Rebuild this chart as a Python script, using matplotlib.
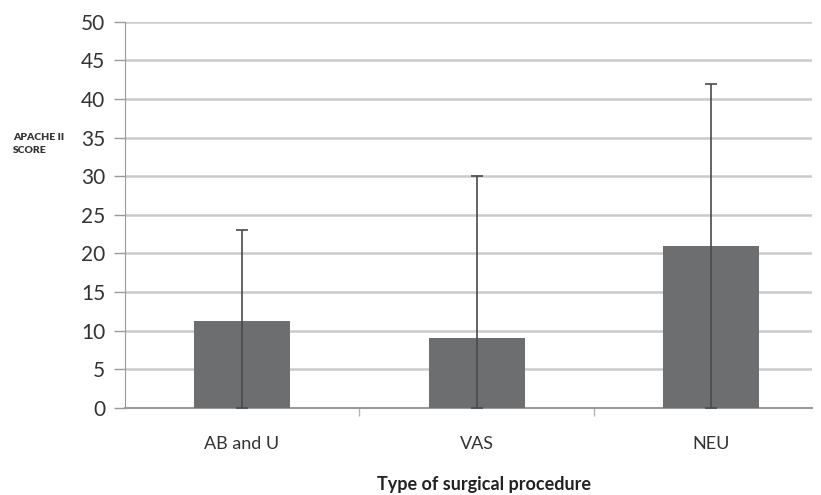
import numpy as np
import matplotlib.pyplot as plt

plt.rcParams['font.family'] = ['Lato', 'DejaVu Sans']

categories = ['AB and U', 'VAS', 'NEU']
means = [11.2, 9.1, 20.9]
upper_err = [11.8, 20.9, 21.1]   # mean + err = 23, 30, 42
lower_err = [11.2, 9.1, 20.9]    # down to 0

fig = plt.figure(figsize=(8.21, 4.95), dpi=100)
ax = fig.add_axes([0.152, 0.176, 0.837, 0.78])

x = np.arange(len(categories))
ax.bar(x, means, width=0.41, color='#6d6e70', zorder=3)
ax.errorbar(x, means, yerr=[lower_err, upper_err], fmt='none',
            ecolor='#4a4a4c', elinewidth=1.2, capsize=4, capthick=1.2, zorder=4)

ax.set_ylim(0, 50)
ax.set_yticks(range(0, 51, 5))
ax.set_xlim(-0.5, 2.43)
ax.set_xticks(x)
ax.set_xticks(x[:-1] + 0.5, minor=True)
ax.set_xticklabels(categories, fontsize=13, color='#333333')
ax.tick_params(axis='x', which='major', length=0, pad=20)
ax.tick_params(axis='x', which='minor', length=6, width=1, color='#b5b5b5')
ax.tick_params(axis='y', length=8, width=1, color='#9a9a9a', labelsize=15,
               labelcolor='#333333', pad=6)

ax.yaxis.grid(True, color='#cbcbcb', linewidth=1.8, zorder=0)
ax.set_axisbelow(True)
for s in ['top', 'right']:
    ax.spines[s].set_visible(False)
ax.spines['left'].set_color('#9a9a9a')
ax.spines['bottom'].set_color('#9a9a9a')
ax.spines['bottom'].set_linewidth(1.5)

fig.text(0.016, 0.709, 'APACHE II\nSCORE', fontsize=7.5, fontweight='heavy',
         color='#333333', ha='left', va='center', linespacing=1.7)
fig.text(0.59, 0.022, 'Type of surgical procedure', fontsize=13,
         fontweight='bold', color='#222222', ha='center', va='center')

fig.savefig('out.png', dpi=100)
